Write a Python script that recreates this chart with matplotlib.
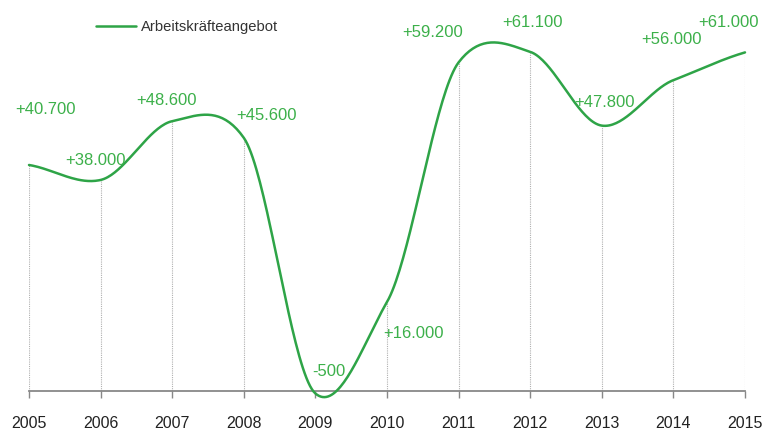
import numpy as np
import matplotlib
matplotlib.use("Agg")
import matplotlib.pyplot as plt

plt.rcParams['font.family'] = ['Liberation Sans', 'DejaVu Sans']

years = [2005, 2006, 2007, 2008, 2009, 2010, 2011, 2012, 2013, 2014, 2015]
values = [40700, 38000, 48600, 45600, -500, 16000, 59200, 61100, 47800, 56000, 61000]
series_name = "Arbeitskräfteangebot"

# label offsets (pixels) relative to each point
label_dx = [16, -5, -5.5, 23, 13, 26, -25.5, 2.5, 2.7, -1.7, -17]
label_dy = [55, 19, 21, 22, 22, -32, 30, 29, 23, 41, 29.5]

LINE = '#2ea447'
TXT_GREEN = '#3cb04a'
AXIS = '#888888'


def smooth(xs, ys, s=0.75, n=40):
    xs = np.asarray(xs, float)
    ys = np.asarray(ys, float)
    m = np.zeros_like(ys)
    m[1:-1] = (ys[2:] - ys[:-2]) / 2.0
    m[0] = ys[1] - ys[0]
    m[-1] = ys[-1] - ys[-2]
    m *= s
    ox, oy = [], []
    for i in range(len(xs) - 1):
        t = np.linspace(0, 1, n, endpoint=(i == len(xs) - 2))
        h00 = 2 * t**3 - 3 * t**2 + 1
        h10 = t**3 - 2 * t**2 + t
        h01 = -2 * t**3 + 3 * t**2
        h11 = t**3 - t**2
        ox.append(xs[i] + t * (xs[i + 1] - xs[i]))
        oy.append(h00 * ys[i] + h10 * m[i] + h01 * ys[i + 1] + h11 * m[i + 1])
    return np.concatenate(ox), np.concatenate(oy)


fig = plt.figure(figsize=(7.64, 4.30), dpi=100)
ax = fig.add_axes([29 / 764, 0.0398, 716 / 764, 0.9028])
ax.set_xlim(years[0], years[-1])
ax.set_ylim(-4000, 66000)

for sp in ['top', 'right', 'left']:
    ax.spines[sp].set_visible(False)
ax.spines['bottom'].set_position(('data', 0))
ax.spines['bottom'].set_color(AXIS)
ax.spines['bottom'].set_linewidth(1.3)
ax.set_yticks([])
ax.set_xticks(years)
ax.set_xticklabels([str(y) for y in years])
ax.tick_params(axis='x', direction='out', length=5, width=1, color=AXIS,
               labelsize=11.5, labelcolor='#222222', pad=13)

ax.vlines(years, 0, values, colors='#b0b0b0', linestyles=(0, (1, 1)),
          linewidth=0.8, zorder=1)

sx, sy = smooth(years, values)
ax.plot(sx, sy, color=LINE, lw=1.8, zorder=3, solid_capstyle='round',
        label=series_name, clip_on=False)

for x, v, dx, dy in zip(years, values, label_dx, label_dy):
    txt = f"{v:+,}".replace(',', '.')
    ax.annotate(txt, (x, v), xytext=(dx, dy), textcoords='offset pixels',
                ha='center', va='center', color=TXT_GREEN, fontsize=12,
                annotation_clip=False)

leg = ax.legend(loc='center left', bbox_to_anchor=(96 / 764, 1 - 27 / 430),
                bbox_transform=fig.transFigure, frameon=False, fontsize=10.6,
                handlelength=2.7, handletextpad=0.35, borderaxespad=0,
                borderpad=0)
for t in leg.get_texts():
    t.set_color('#333333')

fig.savefig('out.png', dpi=100)
